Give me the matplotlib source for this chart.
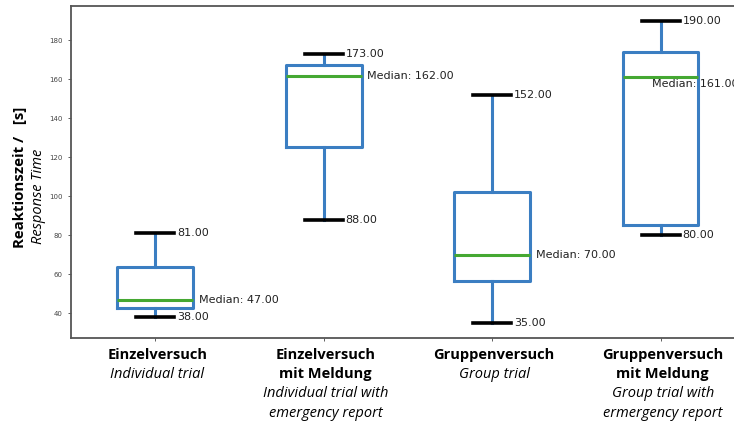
import matplotlib
matplotlib.use("Agg")
import matplotlib.pyplot as plt
from matplotlib.transforms import blended_transform_factory

# Reaktionszeiten je Versuchsbedingung (Sekunden)
categories = ["Einzelversuch", "Einzelversuch mit Meldung",
              "Gruppenversuch", "Gruppenversuch mit Meldung"]
whislo = [38, 88, 35, 80]
q1 = [42.6, 125.4, 56.5, 85.3]
med = [47, 162, 70, 161]
q3 = [63.8, 167.5, 102.3, 174.2]
whishi = [81, 173, 152, 190]

# tick label lines: (text, style)
tick_lines = [
    [("Einzelversuch", "bold"), ("Individual trial", "italic")],
    [("Einzelversuch", "bold"), ("mit Meldung", "bold"),
     ("Individual trial with", "italic"), ("emergency report", "italic")],
    [("Gruppenversuch", "bold"), ("Group trial", "italic")],
    [("Gruppenversuch", "bold"), ("mit Meldung", "bold"),
     ("Group trial with", "italic"), ("ermergency report", "italic")],
]

LABEL_FONT = "Open Sans"
BLUE = "#3b7ec2"
GREEN = "#45a832"

fig = plt.figure(figsize=(7.34, 4.23), dpi=100)
ax = fig.add_axes([0.0967, 0.201, 0.918, 0.785])

stats = []
for i in range(len(categories)):
    stats.append({"label": categories[i], "whislo": whislo[i], "q1": q1[i],
                  "med": med[i], "q3": q3[i], "whishi": whishi[i], "fliers": []})

pos = [1, 2, 3, 4]
ax.bxp(stats, positions=pos, widths=0.45, showfliers=False,
       boxprops=dict(color=BLUE, linewidth=2.2),
       whiskerprops=dict(color=BLUE, linewidth=2.2),
       capprops=dict(color="black", linewidth=2.6),
       medianprops=dict(color=GREEN, linewidth=2.2))

# value labels next to caps and medians
for i, p in enumerate(pos):
    ax.text(p + 0.13, whishi[i], f"{whishi[i]:.2f}", va="center", ha="left",
            fontsize=8, color="#222222")
    ax.text(p + 0.13, whislo[i], f"{whislo[i]:.2f}", va="center", ha="left",
            fontsize=8, color="#222222")
    if i == 3:
        ax.text(p - 0.05, med[i] - 0.8, f"Median: {med[i]:.2f}", va="top",
                ha="left", fontsize=8, color="#222222")
    else:
        ax.text(p + 0.26, med[i], f"Median: {med[i]:.2f}", va="center",
                ha="left", fontsize=8, color="#222222")

ax.set_xlim(0.5, 4.5)
ax.set_xticks(pos)
ax.set_xticklabels([""] * 4)
ax.tick_params(axis="y", labelsize=5, length=2.5, width=0.6, colors="#444444")
ax.tick_params(axis="x", length=2.5, width=0.6, colors="#444444")
for s in ax.spines.values():
    s.set_color("#555555")
    s.set_linewidth(1.3)

# multiline category labels below the axis
trans = blended_transform_factory(ax.transData, ax.transAxes)
for p, lines in zip(pos, tick_lines):
    for k, (txt, style) in enumerate(lines):
        ax.annotate(txt, xy=(p, 0), xycoords=trans,
                    xytext=(1.5, -12.2 - 14.0 * k), textcoords="offset points",
                    ha="center", va="center", fontsize=10.5,
                    family=LABEL_FONT,
                    fontweight="bold" if style == "bold" else "normal",
                    fontstyle="italic" if style == "italic" else "normal",
                    color="black")

# y axis title in two lines
fig.text(20 / 734, 1 - 248 / 423, "Reaktionszeit /   [s]", rotation=90,
         ha="center", va="bottom", fontsize=10.8, fontweight="bold",
         family=LABEL_FONT)
fig.text(38 / 734, 1 - 244 / 423, "Response Time", rotation=90,
         ha="center", va="bottom", fontsize=10.5, fontstyle="italic",
         family=LABEL_FONT)

fig.savefig("out.png", dpi=100)
